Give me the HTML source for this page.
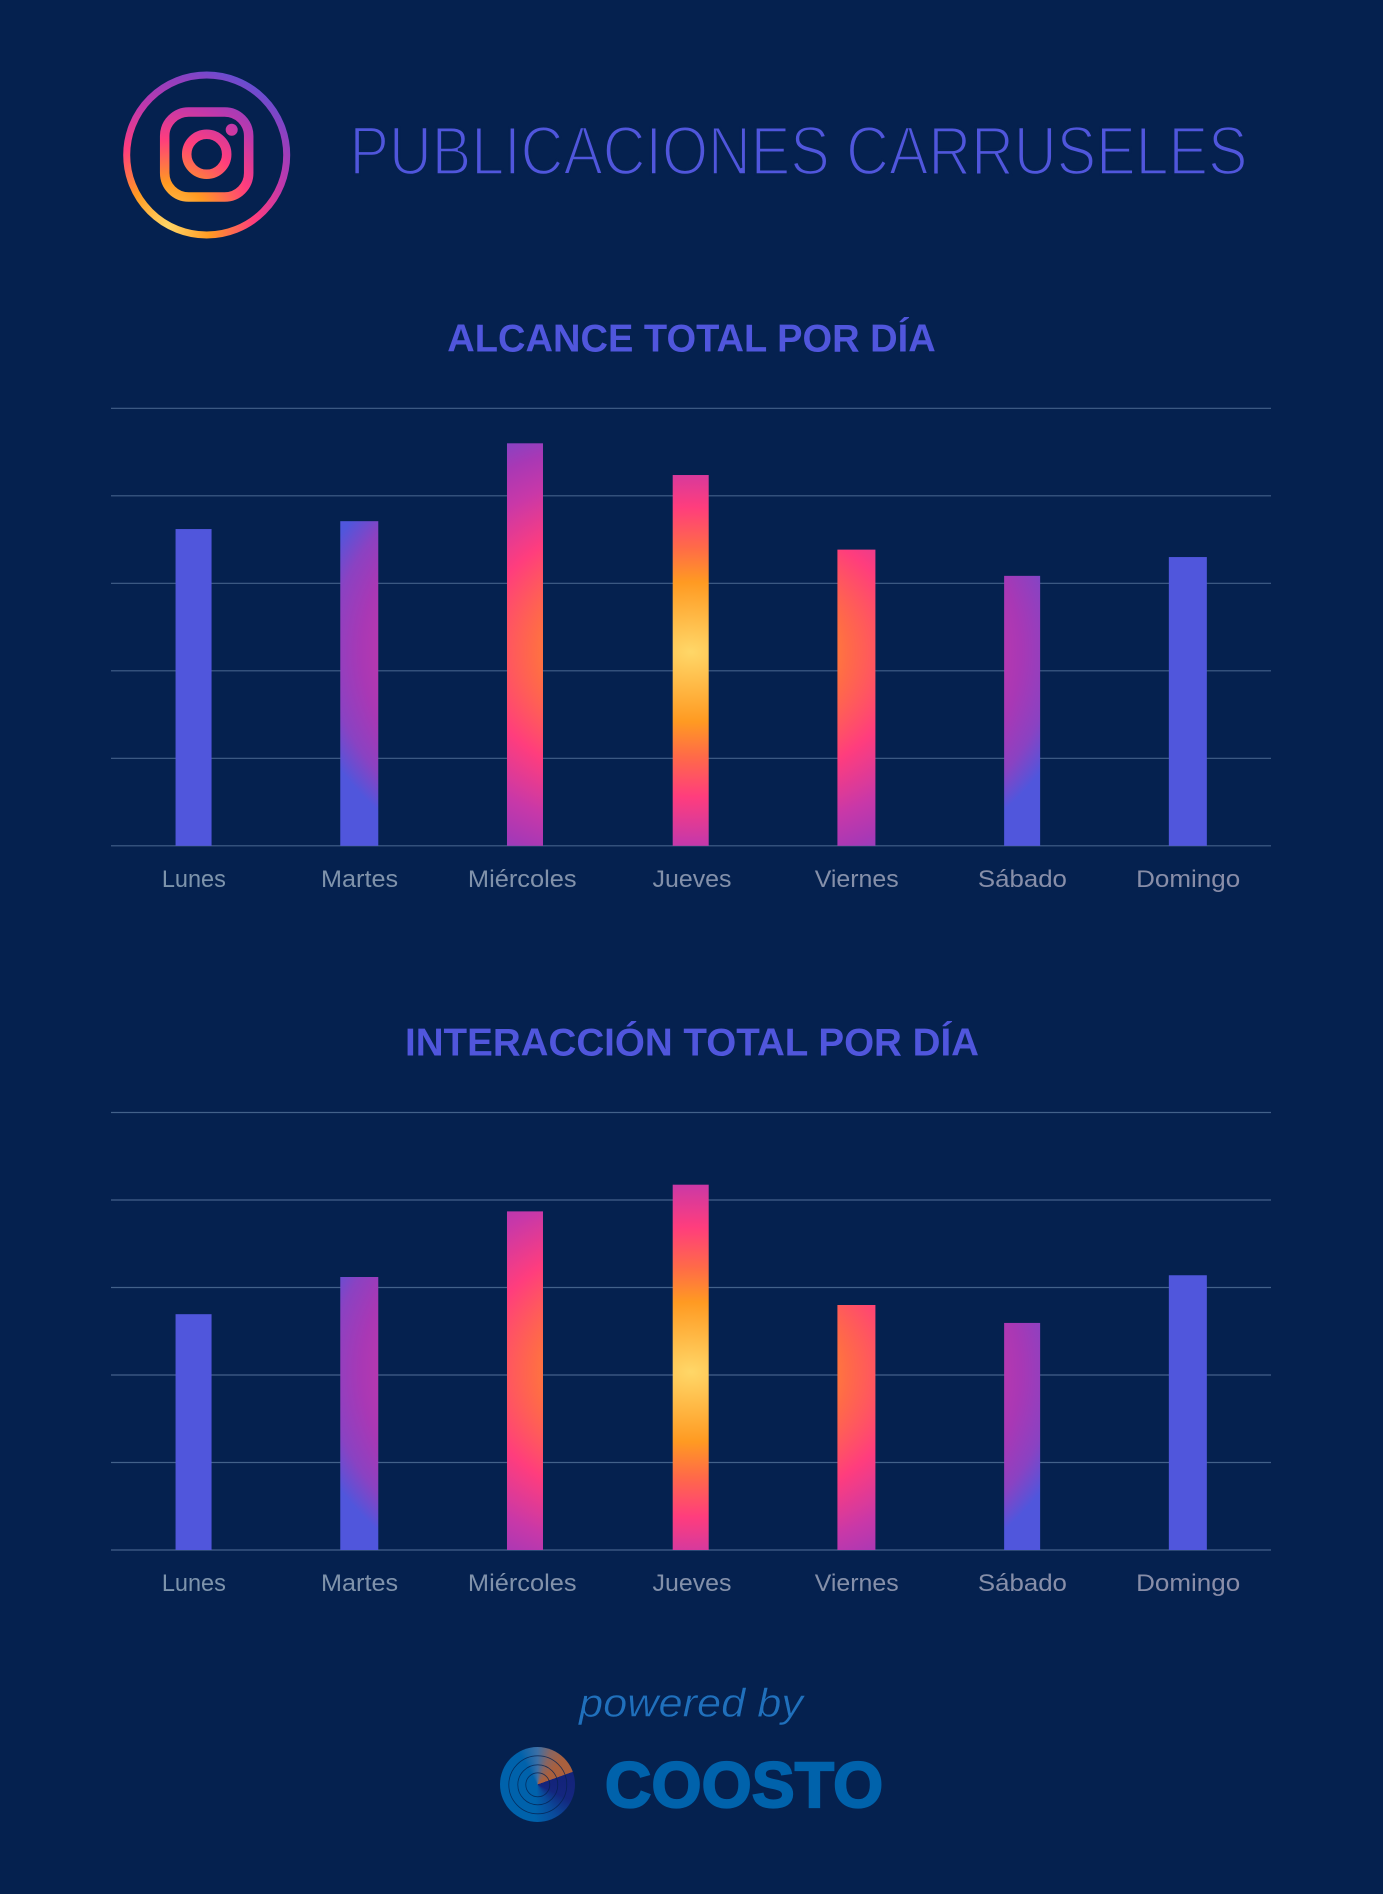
<!DOCTYPE html>
<html lang="es">
<head>
<meta charset="utf-8">
<title>Publicaciones carruseles</title>
<style>
  html, body { margin: 0; padding: 0; background: #05214F; }
  #page { position: relative; width: 1383px; height: 1894px; background: #05214F; overflow: hidden; font-family: "Liberation Sans", sans-serif; }
  #canvas { position: absolute; left: 0; top: 0; }
  #logo-disc { position: absolute; left: 499.5px; top: 1746.5px; width: 75.5px; height: 75.5px; border-radius: 50%;
    background: conic-gradient(from 0deg, #3C6FA6 0deg, #8A6560 22deg, #A8603F 45deg, #AA5F3C 70deg, #13237A 70.5deg, #14267E 115deg, #0A4A9A 150deg, #0062AB 185deg, #0062AB 330deg, #3C6FA6 360deg); }
  #logo-rings { position: absolute; left: 499.5px; top: 1746.5px; }
</style>
</head>
<body>
<div id="page">
  <svg id="canvas" width="1383" height="1894" viewBox="0 0 1383 1894" xmlns="http://www.w3.org/2000/svg">
    <defs>
      <radialGradient id="bars-gradient-alcance" gradientUnits="userSpaceOnUse" cx="0" cy="0" r="1" gradientTransform="translate(691 652) scale(393 262)">
        <stop offset="0" stop-color="#FFD768"/>
        <stop offset="0.267" stop-color="#FF9A22"/>
        <stop offset="0.40" stop-color="#FF6A48"/>
        <stop offset="0.553" stop-color="#FF3D7D"/>
        <stop offset="0.725" stop-color="#C838A8"/>
        <stop offset="0.84" stop-color="#A838B5"/>
        <stop offset="0.92" stop-color="#8A42C2"/>
        <stop offset="1" stop-color="#5056DC"/>
      </radialGradient>
      <radialGradient id="bars-gradient-interaccion" gradientUnits="userSpaceOnUse" cx="0" cy="0" r="1" gradientTransform="translate(691 1372) scale(393 262)">
        <stop offset="0" stop-color="#FFD768"/>
        <stop offset="0.267" stop-color="#FF9A22"/>
        <stop offset="0.40" stop-color="#FF6A48"/>
        <stop offset="0.553" stop-color="#FF3D7D"/>
        <stop offset="0.725" stop-color="#C838A8"/>
        <stop offset="0.84" stop-color="#A838B5"/>
        <stop offset="0.92" stop-color="#8A42C2"/>
        <stop offset="1" stop-color="#5056DC"/>
      </radialGradient>
      <radialGradient id="instagram-gradient" gradientUnits="userSpaceOnUse" cx="167" cy="227" r="175">
        <stop offset="0" stop-color="#FFD768"/>
        <stop offset="0.25" stop-color="#FF9A22"/>
        <stop offset="0.5" stop-color="#FF3D7D"/>
        <stop offset="0.7" stop-color="#C038AC"/>
        <stop offset="0.85" stop-color="#8F40C0"/>
        <stop offset="1" stop-color="#5056DC"/>
      </radialGradient>
      <linearGradient id="label-gradient" gradientUnits="userSpaceOnUse" x1="111" y1="0" x2="1271" y2="0">
        <stop offset="0" stop-color="#7C94AC"/>
        <stop offset="1" stop-color="#8A8DA8"/>
      </linearGradient>
    </defs>

    <g>
      <circle cx="206.7" cy="155" r="80" fill="none" stroke="url(#instagram-gradient)" stroke-width="7"/>
      <rect x="164.7" y="112" width="84" height="85" rx="24" ry="24" fill="none" stroke="url(#instagram-gradient)" stroke-width="9.5"/>
      <circle cx="206.7" cy="154.3" r="20" fill="none" stroke="url(#instagram-gradient)" stroke-width="9.5"/>
      <circle cx="231.7" cy="129.7" r="6" fill="url(#instagram-gradient)"/>
    </g>

    <text x="349.5" y="174.5" font-family="'Liberation Sans', sans-serif" font-size="69" fill="#5056DC" stroke="#05214F" stroke-width="2.4" textLength="898" lengthAdjust="spacingAndGlyphs">PUBLICACIONES CARRUSELES</text>

    <text x="447.3" y="351.7" font-family="'Liberation Sans', sans-serif" font-weight="700" font-size="38.5" fill="#5056DC" textLength="488.4" lengthAdjust="spacingAndGlyphs">ALCANCE TOTAL POR DÍA</text>
    <g id="chart-alcance"></g>

    <text x="405" y="1055.7" font-family="'Liberation Sans', sans-serif" font-weight="700" font-size="38.5" fill="#5056DC" textLength="574" lengthAdjust="spacingAndGlyphs">INTERACCIÓN TOTAL POR DÍA</text>
    <g id="chart-interaccion"></g>

    <text x="579" y="1716.7" font-family="'Liberation Sans', sans-serif" font-style="italic" font-size="40" fill="#2070BC" stroke="#05214F" stroke-width="0.5" textLength="224" lengthAdjust="spacingAndGlyphs">powered by</text>
    <text x="605" y="1807" font-family="'Liberation Sans', sans-serif" font-weight="700" font-size="64" fill="#0062AB" stroke="#0062AB" stroke-width="2.2" textLength="278">COOSTO</text>
  </svg>

  <div id="logo-disc"></div>
  <svg id="logo-rings" width="76" height="76" viewBox="0 0 76 76" xmlns="http://www.w3.org/2000/svg">
    <g fill="none" stroke="#05214F" stroke-width="0.8" opacity="0.8">
      <circle cx="37.8" cy="37.8" r="12"/>
      <circle cx="37.8" cy="37.8" r="20"/>
      <circle cx="37.8" cy="37.8" r="29"/>
    </g>
  </svg>
</div>

<script>
const days = ["Lunes", "Martes", "Miércoles", "Jueves", "Viernes", "Sábado", "Domingo"];
const alcanceValues = [72.4, 74.2, 92.0, 84.75, 67.7, 61.7, 66.0];
const interaccionValues = [53.9, 62.4, 77.4, 83.5, 56.0, 51.9, 62.8];
const gridTicks = [0, 20, 40, 60, 80, 100];

const SVG_NS = "http://www.w3.org/2000/svg";
const PLOT_LEFT = 111;
const PLOT_RIGHT = 1271;
const PLOT_HEIGHT = 437.5;
const Y_MAX = 100;
const BAR_SHIFT = -0.3;
const barWidths = [36, 38, 36, 36, 38, 36, 38];
const labelWidths = [64, 77, 108.7, 79, 84, 89, 104];
const labelShifts = [0, 0, -3, 1, 0, 0, 0];

function xBand(i) {
  const step = (PLOT_RIGHT - PLOT_LEFT) / days.length;
  return PLOT_LEFT + (i + 0.5) * step;
}

function yScale(value, baseline) {
  return baseline - (value / Y_MAX) * PLOT_HEIGHT;
}

function slug(text) {
  return text.normalize("NFD").replace(/[\u0300-\u036f]/g, "").toLowerCase();
}

function drawChart(groupId, values, gradientId, baseline, labelBaseline, prefix) {
  const group = document.getElementById(groupId);

  gridTicks.forEach(function (tick) {
    const line = document.createElementNS(SVG_NS, "line");
    
    
    line.setAttribute("x1", PLOT_LEFT);
    line.setAttribute("x2", PLOT_RIGHT);
    line.setAttribute("y1", yScale(tick, baseline));
    line.setAttribute("y2", yScale(tick, baseline));
    line.setAttribute("stroke", "#43618A");
    line.setAttribute("stroke-width", "1.2");
    group.appendChild(line);
  });

  values.forEach(function (value, i) {
    const bar = document.createElementNS(SVG_NS, "rect");
    
    
    const top = yScale(value, baseline);
    bar.setAttribute("x", xBand(i) + BAR_SHIFT - barWidths[i] / 2);
    bar.setAttribute("y", top);
    bar.setAttribute("width", barWidths[i]);
    bar.setAttribute("height", baseline - top);
    bar.setAttribute("fill", "url(#" + gradientId + ")");
    group.appendChild(bar);
  });

  days.forEach(function (day, i) {
    const label = document.createElementNS(SVG_NS, "text");
    
    
    label.setAttribute("x", xBand(i) + labelShifts[i] - labelWidths[i] / 2);
    label.setAttribute("y", labelBaseline);
    label.setAttribute("font-family", "'Liberation Sans', sans-serif");
    label.setAttribute("font-size", "24");
    label.setAttribute("fill", "url(#label-gradient)");
    label.setAttribute("textLength", labelWidths[i]);
    label.setAttribute("lengthAdjust", "spacingAndGlyphs");
    label.textContent = day;
    group.appendChild(label);
  });
}

drawChart("chart-alcance", alcanceValues, "bars-gradient-alcance", 845.8, 887, "alcance");
drawChart("chart-interaccion", interaccionValues, "bars-gradient-interaccion", 1550, 1591, "interaccion");
</script>
</body>
</html>
